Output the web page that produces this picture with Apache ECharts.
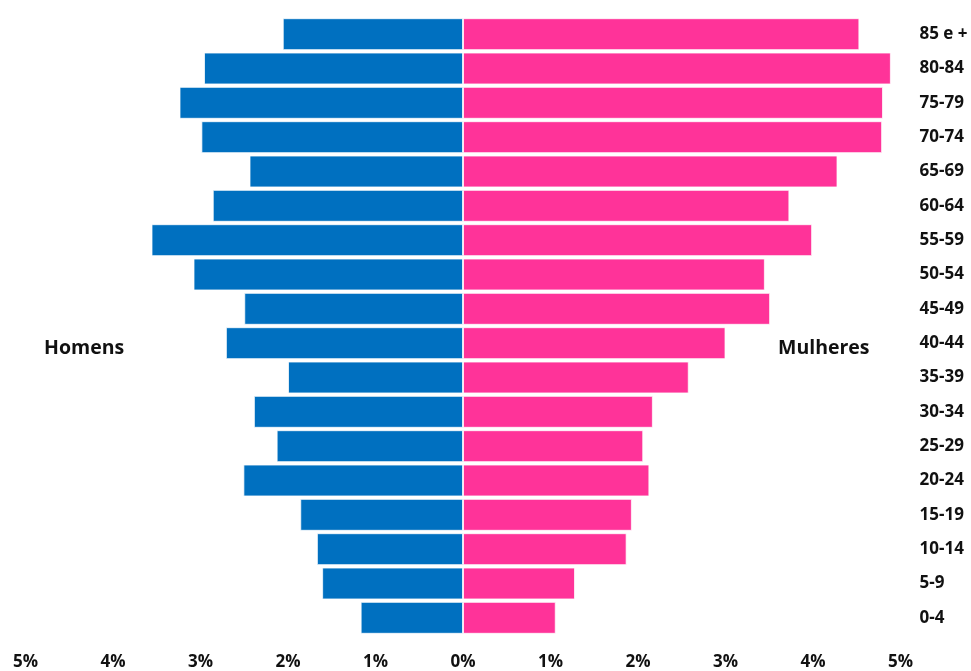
<!DOCTYPE html>
<html>
<head>
<meta charset="utf-8">
<script src="https://cdn.jsdelivr.net/npm/echarts@6/dist/echarts.min.js"></script>
<style>
  html, body { margin: 0; padding: 0; background: #fff; }
  #chart { width: 971px; height: 671px; }
</style>
</head>
<body>
<div id="chart"></div>
<script>
// Age groups, youngest first (bottom of the pyramid)
const ageGroups = ['0-4', '5-9', '10-14', '15-19', '20-24', '25-29', '30-34', '35-39', '40-44',
  '45-49', '50-54', '55-59', '60-64', '65-69', '70-74', '75-79', '80-84', '85 e +'];

// Share of the population (%) by age group
const homens = [1.17, 1.61, 1.67, 1.86, 2.51, 2.13, 2.39, 2.00, 2.71,
  2.50, 3.08, 3.56, 2.86, 2.44, 2.99, 3.24, 2.96, 2.06];
const mulheres = [1.06, 1.28, 1.87, 1.93, 2.13, 2.06, 2.17, 2.58, 3.00,
  3.51, 3.45, 3.99, 3.73, 4.28, 4.79, 4.80, 4.89, 4.53];

const xTicks = [-5, -4, -3, -2, -1, 0, 1, 2, 3, 4, 5];

const FONT = '"Open Sans", sans-serif';
const TEXT = '#111';

const chart = echarts.init(document.getElementById('chart'));
chart.setOption({
  animation: false,
  backgroundColor: '#fff',
  grid: { left: 25.5, right: 70.5, top: 17, bottom: 34.5, containLabel: false },
  xAxis: {
    type: 'value',
    min: xTicks[0],
    max: xTicks[xTicks.length - 1],
    interval: 1,
    axisLine: { show: false },
    axisTick: { show: false },
    splitLine: { show: false },
    axisLabel: {
      margin: 19,
      fontFamily: FONT,
      fontWeight: 'bold',
      fontSize: 17,
      color: TEXT,
      formatter: v => Math.abs(v) + '%'
    }
  },
  yAxis: {
    type: 'category',
    data: ageGroups,
    position: 'right',
    axisLine: { show: false },
    axisTick: { show: false },
    splitLine: { show: false },
    axisLabel: {
      margin: 19,
      align: 'left',
      fontFamily: FONT,
      fontWeight: 'bold',
      fontSize: 17,
      color: TEXT
    }
  },
  series: [
    {
      name: 'Homens',
      type: 'bar',
      stack: 'pyramid',
      barCategoryGap: '7%',
      data: homens.map(v => -v),
      itemStyle: { color: '#0070C0', borderColor: 'rgba(255,255,255,0.75)', borderWidth: 1 }
    },
    {
      name: 'Mulheres',
      type: 'bar',
      stack: 'pyramid',
      barCategoryGap: '7%',
      data: mulheres,
      itemStyle: { color: '#FF3399', borderColor: 'rgba(255,255,255,0.75)', borderWidth: 1 }
    }
  ],
  graphic: [
    {
      type: 'text', left: 44, top: 338,
      style: { text: 'Homens', font: 'bold 19.5px ' + FONT, fill: TEXT }
    },
    {
      type: 'text', left: 778, top: 338,
      style: { text: 'Mulheres', font: 'bold 19.5px ' + FONT, fill: TEXT }
    }
  ]
});
</script>
</body>
</html>
